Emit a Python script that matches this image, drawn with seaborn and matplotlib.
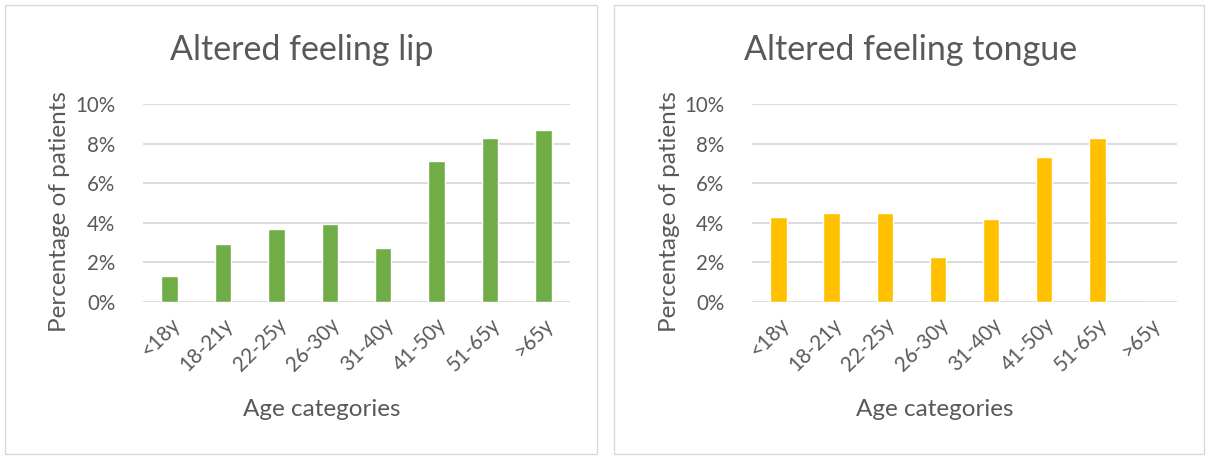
import matplotlib
matplotlib.use("Agg")
import matplotlib.pyplot as plt
from matplotlib.patches import Rectangle
import seaborn as sns
import pandas as pd

age_groups = ["<18y", "18-21y", "22-25y", "26-30y", "31-40y", "41-50y", "51-65y", ">65y"]
lip_pct = [1.33, 2.94, 3.67, 3.94, 2.74, 7.13, 8.29, 8.67]
tongue_pct = [4.29, 4.48, 4.48, 2.26, 4.21, 7.33, 8.29, 0.0]
titles = ["Altered feeling lip", "Altered feeling tongue"]
colors = ["#70AD47", "#FFC000"]
y_ticks = [0, 2, 4, 6, 8, 10]

sns.set_theme(style="white")
plt.rcParams["font.family"] = ["Lato", "DejaVu Sans"]

text_col = "#595959"
grid_col = "#D9D9D9"

fig = plt.figure(figsize=(12.06, 4.57), dpi=100)
W, H = 1206, 457

def fx(px):
    return px / W

def fy(py):
    return 1 - py / H

panels = [
    dict(box=(5, 5, 597, 454), plot=(143, 104, 570, 302), title_x=302, xlabel_x=322, ylabel_x=60),
    dict(box=(614, 5, 1204, 454), plot=(752, 104, 1177, 302), title_x=911, xlabel_x=935, ylabel_x=669),
]

for vals, title, col, p in zip([lip_pct, tongue_pct], titles, colors, panels):
    bx0, by0, bx1, by1 = p["box"]
    fig.patches.append(Rectangle((fx(bx0), fy(by1)), fx(bx1) - fx(bx0), fy(by0) - fy(by1),
                                 transform=fig.transFigure, fill=False, edgecolor=grid_col,
                                 linewidth=1.0, zorder=0))
    x0, y0, x1, y1 = p["plot"]
    ax = fig.add_axes([fx(x0), fy(y1), fx(x1) - fx(x0), fy(y0) - fy(y1)])
    df = pd.DataFrame({"age": age_groups, "pct": vals})
    sns.barplot(data=df, x="age", y="pct", color=col, saturation=1, width=0.31, ax=ax)
    ax.set_ylim(0, 10)
    ax.set_xlim(-0.5, len(age_groups) - 0.5)
    ax.set_yticks(y_ticks)
    ax.set_yticklabels([f"{t}%" for t in y_ticks])
    ax.yaxis.grid(True, color=grid_col, linewidth=1.3)
    ax.set_axisbelow(True)
    for s in ax.spines.values():
        s.set_visible(False)
    ax.tick_params(axis="both", length=0, colors=text_col, labelsize=14.8)
    ax.tick_params(axis="y", pad=20)
    ax.tick_params(axis="x", pad=9)
    for lab in ax.get_xticklabels():
        lab.set_rotation(45)
        lab.set_ha("right")
        lab.set_rotation_mode("anchor")
    ax.set_xlabel("")
    ax.set_ylabel("")
    fig.text(fx(p["title_x"]), fy(50), title, ha="center", va="center", fontsize=24.5, color=text_col)
    fig.text(fx(p["xlabel_x"]), fy(410), "Age categories", ha="center", va="center", fontsize=17.5, color=text_col)
    fig.text(fx(p["ylabel_x"]), fy(212), "Percentage of patients", ha="center", va="center",
             rotation=90, fontsize=17.5, color=text_col)

fig.savefig("out.png", dpi=100)
